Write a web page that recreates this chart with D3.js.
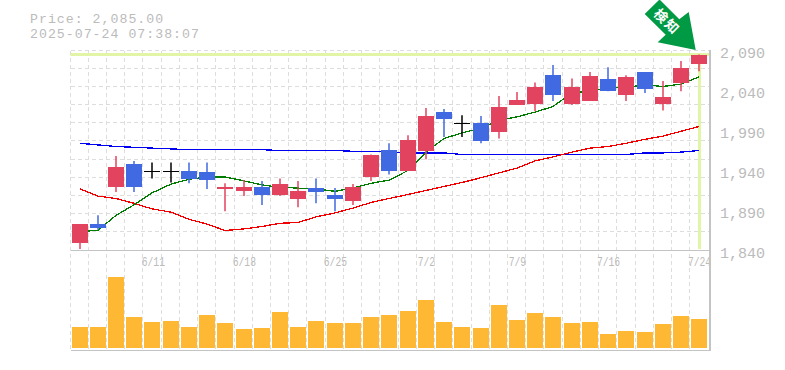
<!DOCTYPE html>
<html>
<head>
<meta charset="utf-8">
<script src="https://cdn.jsdelivr.net/npm/d3@7"></script>
<style>
body { margin: 0; background: #fff; }
svg { display: block; }
text { font-family: "Liberation Mono", monospace; fill: #bbb; }
</style>
</head>
<body>
<div id="chart"></div>
<script>
// chart values
var dates = ["6/5","6/6","6/9","6/10","6/11","6/12","6/13","6/16","6/17","6/18","6/19","6/20","6/23","6/24","6/25","6/26","6/27","6/30","7/1","7/2","7/3","7/4","7/7","7/8","7/9","7/10","7/11","7/14","7/15","7/16","7/17","7/18","7/22","7/23","7/24"];
var opens = [1850,1873,1919,1948,1940,1940,1940,1938,1917,1915,1920,1909,1904,1918,1909,1902,1932,1966,1940,1964,2013,2000,2000,1988,2022,2023,2060,2023,2027,2055,2034,2063,2023,2049,2073];
var closes = [1873,1868,1945,1919,1940,1940,1929,1928,1919,1919,1909,1923,1915,1913,1904,1920,1959,1940,1978,2008,2004,2000,1977,2019,2028,2045,2034,2044,2058,2039,2057,2042,2032,2068,2085];
var highs = [1873,1884,1958,1952,1950,1950,1950,1950,1924,1928,1927,1930,1927,1930,1918,1923,1960,1974,1984,2018,2017,2009,2008,2033,2038,2050,2072,2055,2063,2069,2059,2063,2052,2077,2085];
var lows = [1842,1866,1913,1913,1930,1925,1924,1917,1889,1908,1897,1908,1894,1899,1889,1897,1927,1935,1940,1954,1982,1982,1974,1980,2022,2014,2027,2022,2027,2039,2027,2037,2015,2039,2064];
var maShort = [1864,1865,1884,1897,1912,1923,1929,1932,1932,1927,1922,1919,1918,1917,1914,1918,1924,1928,1940,1963,1980,1987,1993,2003,2007,2013,2020,2037,2039,2044,2044,2047,2045,2048,2057];
var maMid = [1917,1908,1905,1899,1892,1888,1879,1873,1865,1867,1870,1874,1875,1882,1887,1893,1900,1905,1910,1915,1920,1925,1931,1937,1943,1952,1957,1963,1968,1970,1974,1979,1983,1989,1995];
var maLong = [1974,1972,1970,1969,1968,1967,1966,1966,1966,1966,1966,1965,1965,1965,1965,1964,1964,1963,1962,1962,1962,1960,1960,1960,1960,1960,1960,1960,1960,1960,1960,1962,1962,1963,1965];
var volumes = [21,21,71,31,26,27,21,33,25,19,20,36,21,27,25,25,31,33,37,48,26,21,20,43,28,35,31,25,26,14,17,16,24,32,29];
var priceTicks = [2090,2040,1990,1940,1890,1840];
var dateTicks = ["6/11","6/18","6/25","7/2","7/9","7/16","7/24"];
var lastPrice = 2085;

var width = 785, height = 370;
var left = 70.5, right = 708.5;

var svg = d3.select("#chart").append("svg")
  .attr("width", width)
  .attr("height", height);

// the original snaps slots to whole pixels, so floor the band offsets
var xBand = d3.scaleBand().domain(dates).range([0, right - left]);
var x = function(d) { return left + Math.floor(xBand(d)); };
var xMid = function(d) { return x(d) + 9.5; };

var y = d3.scaleLinear().domain([1840, 2090]).range([250.5, 50.5]);
var yVol = d3.scaleLinear().domain([0, 71]).range([348, 277]);

// grid
var gridY = d3.range(12).map(function(i) { return 50.5 + Math.floor(i * 200 / 11); });
var grid = svg.append("g")
  .attr("stroke", "#ddd")
  .attr("stroke-dasharray", "4 3")
  .attr("shape-rendering", "crispEdges");

grid.selectAll(".h").data(gridY.slice(0, 11)).enter().append("line")
  .attr("x1", left).attr("x2", right + 1)
  .attr("y1", function(d) { return d; })
  .attr("y2", function(d) { return d; });

grid.selectAll(".v").data(dates).enter().append("line")
  .attr("x1", function(d) { return x(d); })
  .attr("x2", function(d) { return x(d); })
  .attr("y1", 50.5).attr("y2", 350);

grid.append("line")
  .attr("x1", right + 0.5).attr("x2", right + 0.5)
  .attr("y1", 50.5).attr("y2", 350);

// current price highlight
var lastDate = dates[dates.length - 1];
svg.append("line")
  .attr("x1", left).attr("x2", right + 1)
  .attr("y1", y(lastPrice)).attr("y2", y(lastPrice))
  .attr("stroke", "#e2f4a6").attr("stroke-width", 3);
svg.append("line")
  .attr("x1", xMid(lastDate) + 0.5).attr("x2", xMid(lastDate) + 0.5)
  .attr("y1", y(lastPrice)).attr("y2", 249)
  .attr("stroke", "#e2f4a6").attr("stroke-width", 3);

// moving averages
function drawLine(values, color) {
  svg.append("path")
    .datum(values)
    .attr("d", d3.line()
      .x(function(d, i) { return xMid(dates[i]); })
      .y(function(d) { return y(d); }))
    .attr("fill", "none")
    .attr("stroke", color)
    .attr("stroke-width", 1.3)
    .attr("shape-rendering", "crispEdges");
}
drawLine(maLong, "#0000f0");
drawLine(maMid, "#f00000");
drawLine(maShort, "#007d00");

// candles
var upColor = "#e2435f", downColor = "#4169e1", flatColor = "#000";
function candleColor(i) {
  if (closes[i] > opens[i]) return upColor;
  if (closes[i] < opens[i]) return downColor;
  return flatColor;
}

var candles = svg.append("g").selectAll("g").data(dates).enter().append("g");

candles.append("line")
  .attr("x1", function(d) { return xMid(d); })
  .attr("x2", function(d) { return xMid(d); })
  .attr("y1", function(d, i) { return y(highs[i]); })
  .attr("y2", function(d, i) { return y(lows[i]); })
  .attr("stroke", function(d, i) { return candleColor(i); })
  .attr("stroke-width", 1.5);

candles.append("rect")
  .attr("x", function(d) { return x(d) + 1.5; })
  .attr("width", 16)
  .attr("y", function(d, i) { return y(Math.max(opens[i], closes[i])); })
  .attr("height", function(d, i) { return Math.max(1.5, Math.abs(y(opens[i]) - y(closes[i]))); })
  .attr("fill", function(d, i) { return candleColor(i); })
  .attr("shape-rendering", "crispEdges");

// volume
svg.append("g").selectAll("rect").data(dates).enter().append("rect")
  .attr("x", function(d) { return x(d) + 1.5; })
  .attr("width", 16)
  .attr("y", function(d, i) { return yVol(volumes[i]); })
  .attr("height", function(d, i) { return yVol(0) - yVol(volumes[i]); })
  .attr("fill", "#ffb833")
  .attr("shape-rendering", "crispEdges");

// axes
var priceAxis = svg.append("g")
  .attr("transform", "translate(720,0)")
  .call(d3.axisRight(y).tickValues(priceTicks).tickFormat(d3.format(",")).tickSize(0).tickPadding(0));
priceAxis.select(".domain").remove();
priceAxis.selectAll("text")
  .attr("dy", 7)
  .style("font-size", "15px")
  .style("font-family", "'Liberation Mono', monospace")
  .style("fill", "#bbb");

var dateAxis = svg.append("g")
  .attr("transform", "translate(0,266)")
  .call(d3.axisBottom(d3.scalePoint().domain(dates).range([xMid(dates[0]), xMid(lastDate)]))
    .tickValues(dateTicks).tickSize(0).tickPadding(0));
dateAxis.select(".domain").remove();
// tall narrow labels in the original, squeeze the glyphs to fit
dateAxis.selectAll("text")
  .attr("dy", 0)
  .attr("textLength", function(d) { return d.length * 5.8; })
  .attr("lengthAdjust", "spacingAndGlyphs")
  .style("font-size", "13.5px")
  .style("font-family", "'Liberation Mono', monospace")
  .style("fill", "#bbb");

// frame lines
var frame = svg.append("g").attr("stroke", "#c4c4c4").attr("stroke-width", 1.5).attr("shape-rendering", "crispEdges");
frame.append("line").attr("x1", left).attr("x2", 710.5).attr("y1", 250.5).attr("y2", 250.5);
frame.append("line").attr("x1", left).attr("x2", 710.5).attr("y1", 350.5).attr("y2", 350.5);
frame.append("line").attr("x1", 710).attr("x2", 710).attr("y1", 50).attr("y2", 351);

// header
svg.append("text").attr("x", 30).attr("y", 23).style("font-size", "13.2px").style("letter-spacing", "1.03px").text("Price: 2,085.00");
svg.append("text").attr("x", 30).attr("y", 38).style("font-size", "13.2px").style("letter-spacing", "1.03px").text("2025-07-24 07:38:07");

// signal arrow
svg.append("path")
  .attr("d", "M644.7,14 L659,0 L660,0 L679.3,19.3 L688.7,12 L695.7,50 L657.7,42.3 L665.7,34.7 Z")
  .attr("fill", "#009944");
svg.append("text")
  .attr("transform", "translate(667,21.5) rotate(45)")
  .attr("text-anchor", "middle")
  .attr("dy", 5)
  .style("font-family", "'Noto Sans CJK JP'")
  .style("font-weight", "700")
  .style("font-size", "13.5px")
  .style("letter-spacing", "1.5px")
  .style("fill", "#fff")
  .text("検知");
</script>
</body>
</html>
